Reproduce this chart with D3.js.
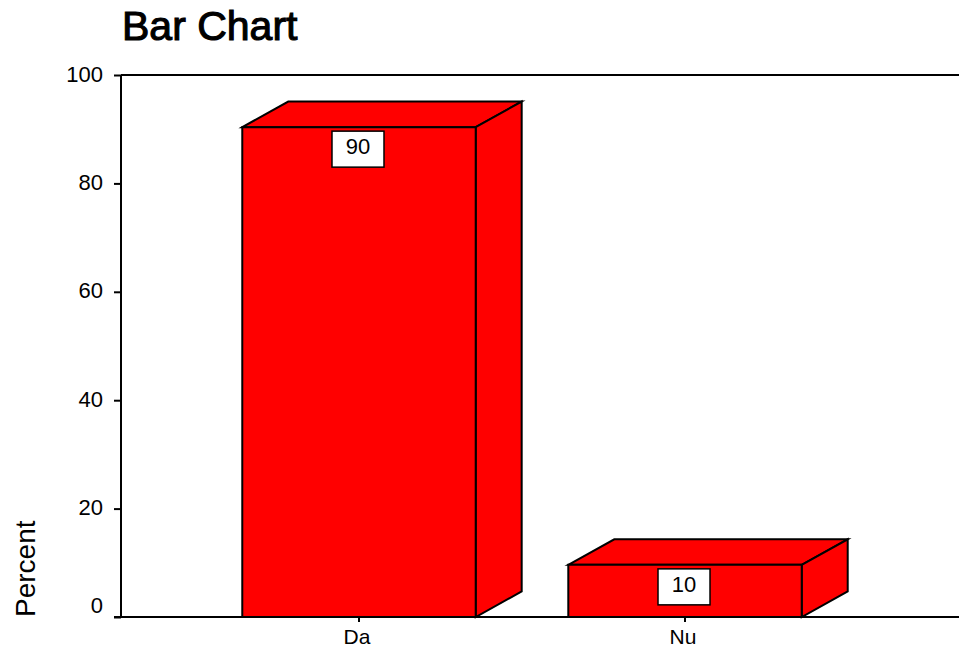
<!DOCTYPE html>
<html>
<head>
<meta charset="utf-8">
<script src="https://cdn.jsdelivr.net/npm/d3@7"></script>
<style>
  html, body { margin: 0; padding: 0; background: #fff; }
  svg { display: block; }
  text { font-family: Arial, "Liberation Sans", sans-serif; fill: #000; }
</style>
</head>
<body>
<svg id="chart" width="959" height="651"></svg>
<script>
// ---- data ----
const categories = ["Da", "Nu"];
const percents = [90.38, 9.62];
const valueLabels = ["90", "10"];
const yTickValues = [0, 20, 40, 60, 80, 100];
const titleText = "Bar Chart";
const yAxisTitle = "Percent";

// ---- layout ----
const W = 959, H = 651;
const plotLeft = 121, plotTop = 75, plotBottom = 617, plotRight = 923;
const svg = d3.select("#chart");

const x = d3.scaleBand()
  .domain(categories)
  .range([plotLeft, plotRight])
  .paddingInner(0.284)
  .paddingOuter(0.372);

const y = d3.scaleLinear().domain([0, 100]).range([plotBottom, plotTop]);

const depthX = x.bandwidth() * 0.197;
const depthY = depthX * 0.556;

// title
svg.append("text")
  .attr("x", plotLeft + 1)
  .attr("y", 40)
  .attr("font-size", 41)
  .attr("stroke", "#000")
  .attr("stroke-width", 1.1)
  .text(titleText);

// top frame line
svg.append("line")
  .attr("x1", plotLeft).attr("x2", W)
  .attr("y1", plotTop).attr("y2", plotTop)
  .attr("stroke", "#000").attr("stroke-width", 2);

// y axis
const yAxis = d3.axisLeft(y)
  .tickValues(yTickValues)
  .tickSize(7)
  .tickPadding(11)
  .tickFormat(d3.format("d"));
const gy = svg.append("g")
  .attr("transform", `translate(${plotLeft},0)`)
  .call(yAxis);
gy.select(".domain").attr("stroke", "#000").attr("stroke-width", 2)
  .attr("d", `M0,${plotTop}V${plotBottom}`);
gy.selectAll(".tick line").attr("stroke", "#000").attr("stroke-width", 2);
gy.selectAll(".tick text")
  .attr("font-size", 22)
  .attr("font-family", "Arial, 'Liberation Sans', sans-serif")
  .attr("fill", "#000")
  .attr("dy", d => d === 0 ? "-0.22em" : "0.28em");

// x axis baseline
svg.append("line")
  .attr("x1", plotLeft - 7).attr("x2", W)
  .attr("y1", plotBottom).attr("y2", plotBottom)
  .attr("stroke", "#000").attr("stroke-width", 2);

const xAxis = d3.axisBottom(x).tickSize(5).tickPadding(7);
const gx = svg.append("g")
  .attr("transform", `translate(0,${plotBottom})`)
  .call(xAxis);
gx.select(".domain").remove();
gx.selectAll(".tick line").attr("stroke", "#000").attr("stroke-width", 2);
gx.selectAll(".tick text")
  .attr("font-size", 21)
  .attr("font-family", "Arial, 'Liberation Sans', sans-serif")
  .attr("fill", "#000")
  .attr("dx", "-0.1em");

// y axis title
svg.append("text")
  .attr("transform", `translate(35,${plotBottom}) rotate(-90)`)
  .attr("text-anchor", "start")
  .attr("font-size", 28)
  .text(yAxisTitle);

// 3D bars
const data = categories.map((c, i) => ({ c, v: percents[i], label: valueLabels[i] }));
const bars = svg.append("g").selectAll("g").data(data).join("g");

bars.each(function(d) {
  const g = d3.select(this);
  const x0 = x(d.c), x1 = x(d.c) + x.bandwidth();
  const yt = y(d.v), yb = y(0);
  const style = s => s.attr("fill", "#FF0000").attr("stroke", "#000")
    .attr("stroke-width", 2).attr("stroke-linejoin", "miter");
  // top face
  g.append("path")
    .attr("d", `M${x0},${yt}L${x0 + depthX},${yt - depthY}L${x1 + depthX},${yt - depthY}L${x1},${yt}Z`)
    .call(style);
  // side face
  g.append("path")
    .attr("d", `M${x1},${yt}L${x1 + depthX},${yt - depthY}L${x1 + depthX},${yb - depthY}L${x1},${yb}Z`)
    .call(style);
  // front face
  g.append("path")
    .attr("d", `M${x0},${yt}L${x1},${yt}L${x1},${yb}L${x0},${yb}Z`)
    .call(style);
  // value label box
  const cx = (x0 + x1) / 2 - 1;
  const bw = 52, bh = 36;
  g.append("rect")
    .attr("x", cx - bw / 2).attr("y", yt + 4)
    .attr("width", bw).attr("height", bh)
    .attr("fill", "#fff").attr("stroke", "#000").attr("stroke-width", 1.5);
  g.append("text")
    .attr("x", cx).attr("y", yt + 4 + bh / 2)
    .attr("dy", "0.22em")
    .attr("text-anchor", "middle")
    .attr("font-size", 22)
    .text(d.label);
});
</script>
</body>
</html>
